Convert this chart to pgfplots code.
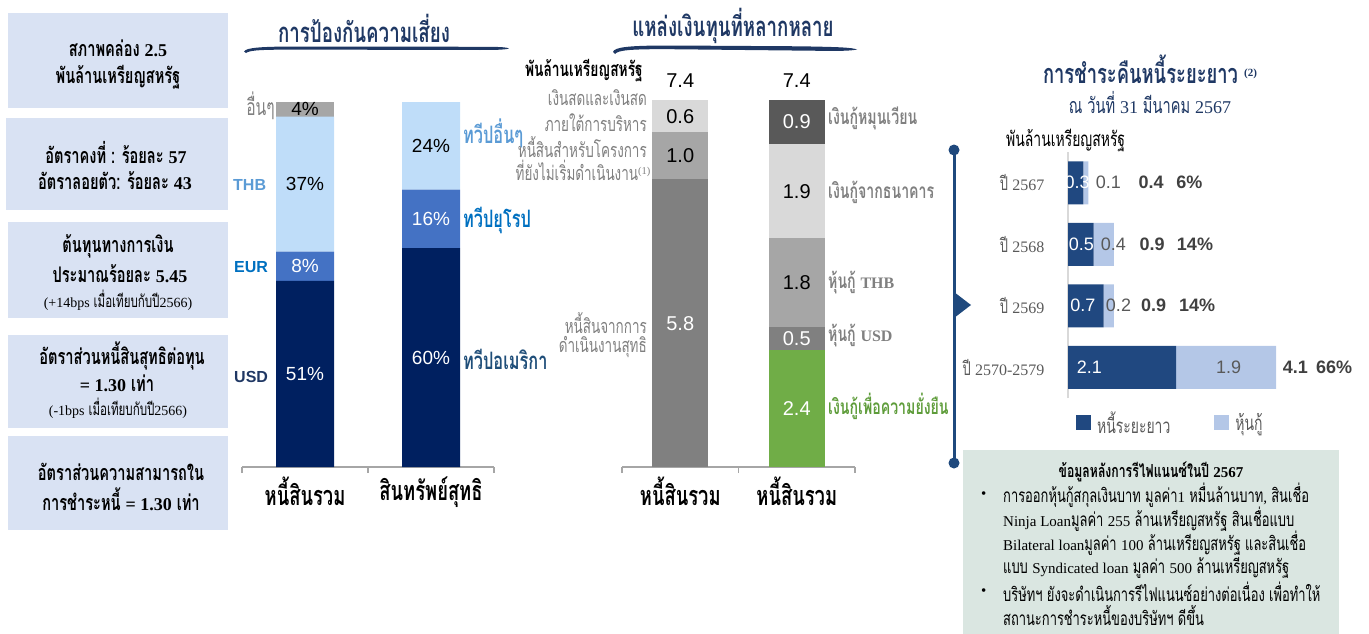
\documentclass[border=0pt]{standalone}
\usepackage{fontspec}
\usepackage{pgfplots}
\pgfplotsset{compat=1.18}
\setmainfont[Script=Thai,FakeStretch=0.68]{Loma}
\newfontfamily\arial{Liberation Sans}
\newfontfamily\tms{Liberation Serif}
\newcommand{\fs}[1]{\fontsize{#1bp}{#1bp}\selectfont}
\newcommand{\tm}[2]{{\tms\fs{#1}#2}}

\definecolor{boxbg}{HTML}{D9E2F3}
\definecolor{notebg}{HTML}{DAE6E1}
\definecolor{navy}{HTML}{1F3864}
\definecolor{usd}{HTML}{002060}
\definecolor{eur}{HTML}{4472C4}
\definecolor{thb}{HTML}{BFDDF9}
\definecolor{oth}{HTML}{A6A6A6}
\definecolor{g1}{HTML}{D9D9D9}
\definecolor{g2}{HTML}{A6A6A6}
\definecolor{g3}{HTML}{808080}
\definecolor{g4}{HTML}{595959}
\definecolor{grn}{HTML}{70AD47}
\definecolor{grntxt}{HTML}{5E9C3A}
\definecolor{ltd}{HTML}{204880}
\definecolor{ltl}{HTML}{B4C7E7}
\definecolor{axgray}{HTML}{A6A6A6}
\definecolor{tl}{HTML}{1F497D}
\definecolor{lbthb}{HTML}{5B9BD5}
\definecolor{lbeur}{HTML}{0070C0}
\definecolor{lbusd}{HTML}{203864}
\definecolor{lbame}{HTML}{1F4E79}
\definecolor{dtxt}{HTML}{404040}

\pgfplotsset{
  lbl/.style={draw=none, mark=none, nodes near coords, point meta=explicit symbolic,
    every node near coord/.append style={anchor=center, inner sep=0pt, font=\arial\fs{#1}}},
  c1/.style={at={(242bp,-467bp)}, anchor=south west, scale only axis,
    width=252bp, height=365bp, xmin=-0.5, xmax=1.5, ymin=0, ymax=100, enlargelimits=false},
  c2/.style={at={(622bp,-467bp)}, anchor=south west, scale only axis,
    width=233bp, height=367bp, xmin=-0.5, xmax=1.5, ymin=0, ymax=7.4, enlargelimits=false},
  c3/.style={at={(1068bp,-398bp)}, anchor=south west, scale only axis,
    width=285.6bp, height=246bp, xmin=0, xmax=5.6, ymin=-0.5, ymax=3.5, enlargelimits=false},
}

\begin{document}
\begin{tikzpicture}
\path[use as bounding box] (0,0) rectangle (1369bp,-634bp);

\begin{scope}[x=1bp,y=-1bp]
% ---- left boxes
\fill[boxbg] (8,13) rectangle (228,108);
\fill[boxbg] (6,118) rectangle (228,210);
\fill[boxbg] (8,222) rectangle (228,318);
\fill[boxbg] (8,335) rectangle (228,428);
\fill[boxbg] (8,436) rectangle (228,530);
\begin{scope}[every node/.style={font=\fs{21.5}\bfseries, inner sep=0pt}]
\node at (118,48) {สภาพคล่อง \tm{18}{2.5}};
\node at (118,77) {พันล้านเหรียญสหรัฐ};
\node at (116,153) {อัตราคงที่ : ร้อยละ \tm{18}{57}};
\node at (115,181) {อัตราลอยตัว: ร้อยละ \tm{18}{43}};
\node at (118,246) {ต้นทุนทางการเงิน};
\node at (120,274) {ประมาณร้อยละ \tm{18}{5.45}};
\node at (122,356) {อัตราส่วนหนี้สินสุทธิต่อทุน};
\node at (117,383) {\tm{18}{= 1.30} เท่า};
\node at (121,472) {อัตราส่วนความสามารถใน};
\node at (121,499) {การชำระหนี้ \tm{18}{= 1.30} เท่า};
\end{scope}
\node[font=\fs{17}, inner sep=0pt] at (118,300) {\tm{14}{(+14bps} เมื่อเทียบกับปี\tm{14}{2566)}};
\node[font=\fs{17}, inner sep=0pt] at (118,408) {\tm{14}{(-1bps} เมื่อเทียบกับปี\tm{14}{2566)}};

% ---- titles with brush underline
\node[font=\fs{27.5}\bfseries, text=navy, inner sep=0pt] at (364,28) {การป้องกันความเสี่ยง};
\fill[navy] (244,51.5) .. controls (246,47.5) and (262,46.5) .. (300,46.5) -- (490,46.8)
  .. controls (503,47) and (508,47.5) .. (509,48.6) .. controls (504,49.8) and (495,50) .. (480,50)
  -- (300,49.6) .. controls (262,49.6) and (250,50) .. (246,53) -- cycle;
\node[font=\fs{27.5}\bfseries, text=navy, inner sep=0pt] at (733,26) {แหล่งเงินทุนที่หลากหลาย};
\fill[navy] (613,52) .. controls (614,47) and (630,45.5) .. (670,45.5) -- (800,46.3)
  .. controls (840,47) and (852,47.5) .. (857,49.5) .. controls (850,51) and (838,51) .. (820,50.8)
  -- (670,49.2) .. controls (632,49) and (618,50) .. (615,54) -- cycle;

% ---- chart 1 side labels
\node[font=\fs{23}, text=g3, anchor=east, inner sep=0pt] at (275,106) {อื่นๆ};
\node[font=\arial\fs{16}\bfseries, text=lbthb, anchor=west, inner sep=0pt] at (233,185) {THB};
\node[font=\arial\fs{16}\bfseries, text=lbeur, anchor=west, inner sep=0pt] at (234,267) {EUR};
\node[font=\arial\fs{16}\bfseries, text=lbusd, anchor=west, inner sep=0pt] at (234,377) {USD};
\node[font=\fs{24}\bfseries, text=lbthb, anchor=west, inner sep=0pt] at (463,133) {ทวีปอื่นๆ};
\node[font=\fs{24}\bfseries, text=lbeur, anchor=west, inner sep=0pt] at (463,220) {ทวีปยุโรป};
\node[font=\fs{24}\bfseries, text=lbame, anchor=west, inner sep=0pt] at (463,359) {ทวีปอเมริกา};

% ---- chart 2 side labels
\node[font=\fs{20.3}\bfseries, anchor=east, inner sep=0pt] at (643,71) {พันล้านเหรียญสหรัฐ};
\begin{scope}[every node/.style={font=\fs{19.8}, text=g3, anchor=east, inner sep=0pt}]
\node at (647,98) {เงินสดและเงินสด};
\node at (647,123) {ภายใต้การบริหาร};
\node at (647,147) {หนี้สินสำหรับโครงการ};
\node at (651,170) {ที่ยังไม่เริ่มดำเนินงาน\tm{15}{\textsuperscript{(1)}}};
\node at (647,323) {หนี้สินจากการ};
\node at (647,347) {ดำเนินงานสุทธิ};
\end{scope}
\begin{scope}[every node/.style={font=\fs{20.8}\bfseries, text=g3, anchor=west, inner sep=0pt}]
\node at (828,118) {เงินกู้หมุนเวียน};
\node at (828,192) {เงินกู้จากธนาคาร};
\node at (828,283) {หุ้นกู้ \tm{16}{THB}};
\node at (828,336) {หุ้นกู้ \tm{16}{USD}};
\node[text=grntxt] at (828,406) {เงินกู้เพื่อความยั่งยืน};
\end{scope}

% ---- chart 3 titles and timeline
\node[font=\fs{27}\bfseries, text=navy, inner sep=0pt] at (1150,69)
  {การชำระคืนหนี้ระยะยาว \raisebox{7bp}{\tm{11}{\bfseries(2)}}};
\node[font=\fs{21.5}, text=navy, inner sep=0pt] at (1150,103) {ณ วันที่ \tm{18}{31} มีนาคม \tm{18}{2567}};
\node[font=\fs{20.5}, inner sep=0pt, anchor=west] at (1006,140) {พันล้านเหรียญสหรัฐ};
\draw[tl, line width=3bp] (954,150) -- (954,463);
\fill[tl] (954,150) circle (5.5);
\fill[tl] (954,463) circle (5.5);
\fill[tl] (954,292) -- (971,305) -- (954,318) -- cycle;

% ---- refinancing note
\fill[notebg] (963,450) rectangle (1339,634);
\node[font=\fs{18}\bfseries, inner sep=0pt] at (1151,472) {ข้อมูลหลังการรีไฟแนนซ์ในปี \tm{15}{2567}};
\begin{scope}[every node/.style={font=\fs{19}, anchor=west, inner sep=0pt}]
\node at (981,495) {\tm{15}{•}};
\node at (981,592) {\tm{15}{•}};
\node at (1003,495) {การออกหุ้นกู้สกุลเงินบาท มูลค่า\tm{15}{1} หมื่นล้านบาท\tm{15}{,} สินเชื่อ};
\node at (1003,519) {\tm{15}{Ninja Loan}มูลค่า \tm{15}{255} ล้านเหรียญสหรัฐ สินเชื่อแบบ};
\node at (1003,543) {\tm{15}{Bilateral loan}มูลค่า \tm{15}{100} ล้านเหรียญสหรัฐ และสินเชื่อ};
\node at (1003,568) {แบบ \tm{15}{Syndicated loan} มูลค่า \tm{15}{500} ล้านเหรียญสหรัฐ};
\node at (1003,592) {บริษัทฯ ยังจะดำเนินการรีไฟแนนซ์อย่างต่อเนื่อง เพื่อทำให้};
\node at (1003,615) {สถานะการชำระหนี้ของบริษัทฯ ดีขึ้น};
\end{scope}
\end{scope}

% ================= chart 1: currency mix
\begin{axis}[c1, ybar stacked, bar width=58bp,
  axis y line=none, axis x line*=bottom,
  axis line style={draw=axgray, line width=1.2bp},
  xtick={0,1}, xticklabels={หนี้สินรวม,สินทรัพย์สุทธิ},
  minor xtick={-0.5,0.5,1.5}, major tick length=0pt, minor tick length=6bp,
  tick align=outside, minor tick style={draw=axgray, line width=1.2bp},
  xticklabel style={font=\fs{27}\bfseries, yshift=-6bp}]
\addplot[fill=usd, draw=none] coordinates {(0,51) (1,60)};
\addplot[fill=eur, draw=none] coordinates {(0,8) (1,16)};
\addplot[fill=thb, draw=none] coordinates {(0,37) (1,24)};
\addplot[fill=oth, draw=none] coordinates {(0,4) (1,0)};
\end{axis}
\begin{axis}[c1, hide axis, clip=false]
\addplot[lbl=19, every node near coord/.append style={text=white}]
  coordinates {(0,25.5) [51\%] (0,55) [8\%] (1,30) [60\%] (1,68) [16\%]};
\addplot[lbl=19, every node near coord/.append style={text=black}]
  coordinates {(0,77.5) [37\%] (0,98) [4\%] (1,88) [24\%]};
\end{axis}

% ================= chart 2: funding sources
\begin{axis}[c2, ybar stacked, bar width=56bp,
  axis y line=none, axis x line*=bottom,
  axis line style={draw=axgray, line width=1.2bp},
  xtick={0,1}, xticklabels={หนี้สินรวม,หนี้สินรวม},
  minor xtick={-0.5,0.5,1.5}, major tick length=0pt, minor tick length=6bp,
  tick align=outside, minor tick style={draw=axgray, line width=1.2bp},
  xticklabel style={font=\fs{27}\bfseries, yshift=-6bp}]
\addplot[fill=g3, draw=none] coordinates {(0,5.8) (1,0)};
\addplot[fill=g2, draw=none] coordinates {(0,0.95) (1,0)};
\addplot[fill=g1, draw=none] coordinates {(0,0.65) (1,0)};
\addplot[fill=grn, draw=none] coordinates {(0,0) (1,2.35)};
\addplot[fill=g3, draw=none] coordinates {(0,0) (1,0.48)};
\addplot[fill=g2, draw=none] coordinates {(0,0) (1,1.78)};
\addplot[fill=g1, draw=none] coordinates {(0,0) (1,1.90)};
\addplot[fill=g4, draw=none] coordinates {(0,0) (1,0.89)};
\end{axis}
\begin{axis}[c2, hide axis, clip=false]
\addplot[lbl=20, every node near coord/.append style={text=white}]
  coordinates {(0,2.9) [5.8] (1,1.175) [2.4] (1,2.59) [0.5] (1,6.955) [0.9]};
\addplot[lbl=20, every node near coord/.append style={text=black}]
  coordinates {(0,6.275) [1.0] (0,7.075) [0.6] (1,3.72) [1.8] (1,5.56) [1.9]
               (0,7.8) [7.4] (1,7.8) [7.4]};
\end{axis}

% ================= chart 3: debt maturity
\begin{axis}[c3, xbar stacked, bar width=43bp,
  axis x line=none, axis y line*=left,
  y axis line style={draw=g1, line width=2bp},
  ytick={0,1,2,3},
  yticklabels={ปี \tm{16}{2570-2579}, ปี \tm{16}{2569}, ปี \tm{16}{2568}, ปี \tm{16}{2567}},
  major tick length=0pt,
  yticklabel style={font=\fs{19}, text=g4, anchor=east, xshift=-20bp},
  legend columns=2,
  legend style={at={(0.028,-0.1016)}, anchor=west, draw=none, fill=none,
    font=\fs{20.5}, text=g4, inner sep=0pt,
    /tikz/every odd column/.append style={column sep=4bp},
    /tikz/every even column/.append style={column sep=42bp}},
  legend image code/.code={\fill[#1] (0bp,-7.5bp) rectangle (15bp,7.5bp);}]
\addplot[fill=ltd, draw=none] coordinates {(0.3,3) (0.5,2) (0.7,1) (2.12,0)};
\addplot[fill=ltl, draw=none] coordinates {(0.1,3) (0.4,2) (0.2,1) (1.96,0)};
\legend{หนี้ระยะยาว, หุ้นกู้}
\end{axis}
\begin{axis}[c3, hide axis, clip=false]
\addplot[lbl=18, every node near coord/.append style={text=white}]
  coordinates {(0.18,3) [0.3] (0.26,2) [0.5] (0.29,1) [0.7] (0.42,0) [2.1]};
\addplot[lbl=18, every node near coord/.append style={text=g4}]
  coordinates {(0.79,3) [0.1] (0.89,2) [0.4] (0.99,1) [0.2] (3.15,0) [1.9]};
\addplot[lbl=18, every node near coord/.append style={text=dtxt, font=\arial\fs{18}\bfseries}]
  coordinates {(1.63,3) [0.4] (1.65,2) [0.9] (1.68,1) [0.9] (4.46,0) [4.1]
               (2.38,3) [6\%] (2.49,2) [14\%] (2.53,1) [14\%] (5.22,0) [66\%]};
\end{axis}
\end{tikzpicture}
\end{document}
